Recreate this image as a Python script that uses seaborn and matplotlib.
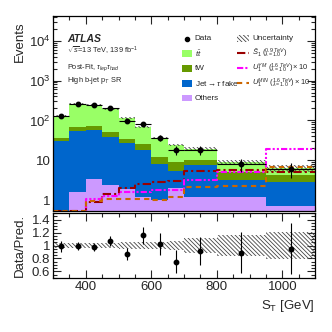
import numpy as np
import pandas as pd
import matplotlib
matplotlib.use("Agg")
import matplotlib.pyplot as plt
import matplotlib.ticker as mticker
from matplotlib.patches import Rectangle
import seaborn as sns

# binning in S_T [GeV]
edges = [300, 350, 400, 450, 500, 550, 600, 650, 700, 800, 950, 1100]

# post-fit backgrounds (events per bin)
others = [0.4, 1.6, 3.4, 2.4, 1.9, 1.2, 1.0, 2.0, 1.2, 1.2, 0.7]
fake = [29.6, 53.4, 54.6, 36.6, 25.1, 16.8, 6.9, 3.4, 6.4, 2.0, 2.2]
tw = [6.0, 14.0, 16.0, 13.0, 7.0, 7.0, 4.4, 3.8, 2.4, 2.0, 1.4]
ttbar = [96.0, 193.0, 176.0, 140.0, 80.0, 45.0, 23.7, 14.8, 9.6, 3.8, 2.0]
unc_frac = [0.035, 0.035, 0.04, 0.045, 0.05, 0.055, 0.06, 0.07, 0.12, 0.16, 0.21]

data = [130, 259, 243, 205, 99, 81, 37, 18, 18, 8, 6]

# signals
sig_s1 = [0.55, 0.55, 0.9, 1.4, 2.05, 2.6, 2.9, 3.0, 5.4, 5.8, 5.0]
sig_ym = [0.3, 0.3, 1.05, 1.3, 1.6, 1.6, 1.8, 1.8, 3.2, 5.2, 19.0]
sig_min = [0.55, 0.55, 0.95, 1.1, 1.05, 1.05, 1.0, 1.2, 2.1, 2.25, 6.8]

bins = list(edges)
edges = np.array(edges, dtype=float)
centers = 0.5 * (edges[:-1] + edges[1:])
halfw = 0.5 * np.diff(edges)
total = np.array(others) + np.array(fake) + np.array(tw) + np.array(ttbar)
data = np.array(data, dtype=float)
unc = np.array(unc_frac)

sns.set_theme(style="ticks")
plt.rcParams["font.family"] = ["Liberation Sans", "DejaVu Sans"]
plt.rcParams["mathtext.fontset"] = "custom"
plt.rcParams["mathtext.rm"] = "Liberation Sans"
plt.rcParams["mathtext.it"] = "Liberation Sans:italic"
plt.rcParams["hatch.linewidth"] = 0.6
plt.rcParams["hatch.color"] = "#444444"

c_tt = "#99ff66"
c_tw = "#669900"
c_fake = "#0066cc"
c_oth = "#cc99ff"
c_s1 = "#990000"
c_ym = "#ff00ff"
c_min = "#cc6600"
ls_s1 = (0, (4, 1.5, 1, 1.5))
ls_ym = (0, (3, 1, 1, 1, 1, 1))
ls_min = (0, (2.5, 2))
hatch = "\\\\\\\\\\\\\\\\"

fig = plt.figure(figsize=(3.32, 3.32), dpi=100)
ax = fig.add_axes([0.16, 0.364, 0.789, 0.588])
rax = fig.add_axes([0.16, 0.163, 0.789, 0.195], sharex=ax)

# seaborn stacks the last hue level at the bottom
procs = ["ttbar", "tW", "Jet fake", "Others"]
df = pd.DataFrame({
    "ST": np.tile(centers, 4),
    "w": np.concatenate([ttbar, tw, fake, others]),
    "proc": np.repeat(procs, len(centers)),
})
sns.histplot(data=df, x="ST", weights="w", hue="proc", hue_order=procs,
             bins=bins, multiple="stack", element="step", alpha=1,
             linewidth=0, palette=[c_tt, c_tw, c_fake, c_oth],
             legend=False, ax=ax)

# uncertainty band
ext_x = np.append(edges[:-1], edges[-1])
lo = np.append(total * (1 - unc), total[-1] * (1 - unc[-1]))
hi = np.append(total * (1 + unc), total[-1] * (1 + unc[-1]))
ax.fill_between(ext_x, lo, hi, step="post", facecolor="none",
                edgecolor="#444444", hatch=hatch, linewidth=0)

# signals
for vals, col, ls in [(sig_s1, c_s1, ls_s1), (sig_ym, c_ym, ls_ym),
                      (sig_min, c_min, ls_min)]:
    sdf = pd.DataFrame({"ST": centers, "w": vals})
    sns.histplot(data=sdf, x="ST", weights="w", bins=bins, element="step",
                 fill=False, color=col, linewidth=1.5, linestyle=ls, ax=ax)

# data
ax.errorbar(centers, data, yerr=np.sqrt(data), xerr=halfw, fmt="o",
            color="black", markersize=3.2, elinewidth=0.8, capsize=0)

ax.set_yscale("log")
ax.set_ylim(0.53, 4.2e4)
ax.set_xlim(300, 1100)


def log_fmt(v, pos):
    e = int(round(np.log10(v)))
    if e == 0:
        return "1"
    if e == 1:
        return "10"
    return r"$10^{%d}$" % e


ax.yaxis.set_major_locator(mticker.LogLocator(base=10, numticks=10))
ax.yaxis.set_minor_locator(mticker.LogLocator(base=10, subs=np.arange(2, 10), numticks=20))
ax.yaxis.set_major_formatter(mticker.FuncFormatter(log_fmt))
ax.yaxis.set_minor_formatter(mticker.NullFormatter())
ax.tick_params(labelbottom=False)
ax.set_xlabel("")
ax.set_ylabel("Events", fontsize=9.5, loc="top")

# ratio panel
ratio = data / total
rerr = np.sqrt(data) / total
rax.fill_between(ext_x, np.append(1 - unc, 1 - unc[-1]),
                 np.append(1 + unc, 1 + unc[-1]), step="post",
                 facecolor="none", edgecolor="#444444",
                 hatch=hatch, linewidth=0)
rax.errorbar(centers, ratio, yerr=rerr, fmt="o", color="black",
             markersize=3.2, elinewidth=0.8, capsize=0)
rax.set_ylim(0.5, 1.5)
rax.set_yticks([0.6, 0.8, 1.0, 1.2, 1.4])
rax.set_yticklabels(["0.6", "0.8", "1", "1.2", "1.4"])
rax.yaxis.set_minor_locator(mticker.MultipleLocator(0.05))
rax.xaxis.set_major_locator(mticker.MultipleLocator(200))
rax.xaxis.set_minor_locator(mticker.MultipleLocator(50))
rax.set_xlabel(r"S$_{\mathrm{T}}$ [GeV]", fontsize=9.5, loc="right")
rax.set_ylabel("Data/Pred.", fontsize=9.5)

for a in (ax, rax):
    a.tick_params(which="both", direction="in", top=True, right=True,
                  labelsize=9.5, width=0.8, pad=2)
    a.tick_params(which="major", length=6)
    a.tick_params(which="minor", length=3)
    for s in a.spines.values():
        s.set_linewidth(0.9)
        s.set_color("black")

ax.yaxis.set_label_coords(-0.105, 0.97)
rax.yaxis.set_label_coords(-0.105, 0.5)

# labels
ax.text(0.053, 0.868, "ATLAS", transform=ax.transAxes, fontsize=7.5,
        fontweight="bold", fontstyle="italic", va="baseline")
ax.text(0.053, 0.809, r"$\sqrt{s}$=13 TeV, 139 fb$^{-1}$", transform=ax.transAxes,
        fontsize=5.3, va="baseline")
ax.text(0.053, 0.728, r"Post-Fit, $\tau_{lep}\tau_{had}$",
        transform=ax.transAxes, fontsize=5.3, va="baseline")
ax.text(0.053, 0.66, r"High b-jet p$_{T}$ SR", transform=ax.transAxes,
        fontsize=5.3, va="baseline")

# legend, drawn entry by entry in axes coordinates
rows = [0.884, 0.808, 0.731, 0.654, 0.579]
left_entries = [("Data", None), (r"$t\bar{t}$", c_tt), ("tW", c_tw),
                (r"Jet$\rightarrow\tau$ fake", c_fake), ("Others", c_oth)]
for (lab, col), fy in zip(left_entries, rows):
    if col is None:
        ax.plot([0.511], [fy], "o", color="black", markersize=3,
                transform=ax.transAxes, clip_on=False)
    else:
        ax.add_patch(Rectangle((0.492, fy - 0.016), 0.039, 0.032,
                               facecolor=col, edgecolor="none",
                               transform=ax.transAxes))
    ax.text(0.540, fy, lab, transform=ax.transAxes, fontsize=5.9,
            va="center", ha="left")

ax.add_patch(Rectangle((0.702, rows[0] - 0.016), 0.046, 0.032,
                       facecolor="none", edgecolor="#444444", hatch=hatch,
                       linewidth=0, transform=ax.transAxes))
ax.text(0.760, rows[0], "Uncertainty", transform=ax.transAxes,
        fontsize=5.9, va="center", ha="left")
right_entries = [
    (r"$\tilde{S}_1\ (^{0.9\ TeV}_{\lambda=1.0})$", c_s1, ls_s1),
    (r"$U_1^{YM}\ (^{1.6\ TeV}_{\lambda=1.0})\times10$", c_ym, ls_ym),
    (r"$U_1^{MIN}\ (^{1.6\ TeV}_{\lambda=1.0})\times10$", c_min, ls_min),
]
for (lab, col, ls), fy in zip(right_entries, rows[1:4]):
    ax.plot([0.702, 0.748], [fy, fy], color=col, linewidth=1.5,
            linestyle=ls, transform=ax.transAxes, clip_on=False)
    ax.text(0.760, fy, lab, transform=ax.transAxes, fontsize=5.4,
            va="center", ha="left")

fig.savefig("out.png", dpi=100)
